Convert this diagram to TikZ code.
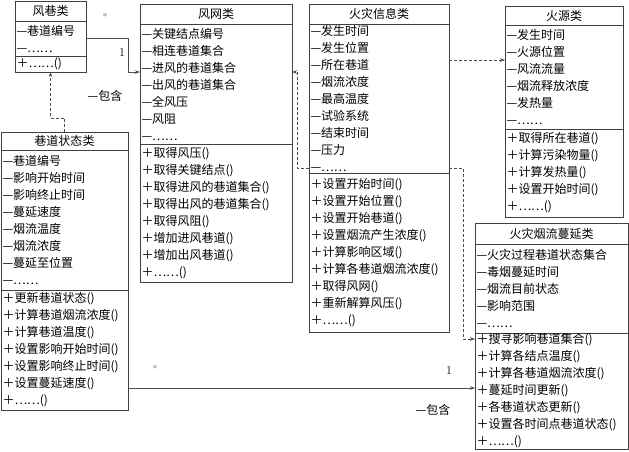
\documentclass[tikz,border=0pt]{standalone}
\usepackage{fontspec}
\newfontfamily\cjk{Noto Sans CJK SC}
\usetikzlibrary{arrows.meta,positioning}

\tikzset{
  cls/.style={draw=black!75, line width=0.6pt, inner xsep=1.5pt, inner ysep=0pt,
    outer sep=0pt, font=\cjk\fontsize{12}{17}\selectfont},
  ttl/.style={cls, align=center},
  lst/.style={cls, align=left},
  assoc/.style={-{Stealth[length=5pt,width=3.5pt]}, draw=black!70, line width=0.6pt},
  dep/.style={assoc, dash pattern=on 3pt off 2pt, line width=0.5pt},
  mult/.style={font=\normalsize, text=black!60},
  num/.style={font=\fontsize{12}{14}\selectfont},
  role/.style={font=\cjk\fontsize{12}{14}\selectfont},
}

\begin{document}
\begin{tikzpicture}[x=1pt, y=-1pt, >=Stealth]
  \useasboundingbox (0,0) rectangle (629,451);

  % 风巷类
  \node[ttl, text width=68pt, minimum height=20pt, anchor=north west] (lane-t) at (15,1) {风巷类};
  \node[lst, text width=68pt, minimum height=35pt, below=0pt of lane-t] (lane-a) {—巷道编号\\—……};
  \node[lst, text width=68pt, minimum height=16pt, below=0pt of lane-a] (lane-m) {＋……()};

  % 风网类
  \node[ttl, text width=149pt, minimum height=20pt, anchor=north west] (net-t) at (140,4) {风网类};
  \node[lst, text width=149pt, minimum height=120pt, below=0pt of net-t] (net-a)
    {—关键结点编号\\—相连巷道集合\\—进风的巷道集合\\—出风的巷道集合\\—全风压\\—风阻\\—……};
  \node[lst, text width=149pt, minimum height=138pt, below=0pt of net-a] (net-m)
    {＋取得风压()\\＋取得关键结点()\\＋取得进风的巷道集合()\\＋取得出风的巷道集合()\\
     ＋取得风阻()\\＋增加进风巷道()\\＋增加出风巷道()\\＋……()};

  % 火灾信息类
  \node[ttl, text width=137pt, minimum height=20pt, anchor=north west] (info-t) at (309,4) {火灾信息类};
  \node[lst, text width=137pt, minimum height=149pt, below=0pt of info-t] (info-a)
    {—发生时间\\—发生位置\\—所在巷道\\—烟流浓度\\—最高温度\\—试验系统\\—结束时间\\—压力\\—……};
  \node[lst, text width=137pt, minimum height=159pt, below=0pt of info-a] (info-m)
    {＋设置开始时间()\\＋设置开始位置()\\＋设置开始巷道()\\＋设置烟流产生浓度()\\
     ＋计算影响区域()\\＋计算各巷道烟流浓度()\\＋取得风网()\\＋重新解算风压()\\＋……()};

  % 火源类
  \node[ttl, text width=115pt, minimum height=19pt, anchor=north west] (src-t) at (505,6) {火源类};
  \node[lst, text width=115pt, minimum height=104pt, below=0pt of src-t] (src-a)
    {—发生时间\\—火源位置\\—风流流量\\—烟流释放浓度\\—发热量\\—……};
  \node[lst, text width=115pt, minimum height=88pt, below=0pt of src-a] (src-m)
    {＋取得所在巷道()\\＋计算污染物量()\\＋计算发热量()\\＋设置开始时间()\\＋……()};

  % 火灾烟流蔓延类
  \node[ttl, text width=150pt, minimum height=21pt, anchor=north west] (sprd-t) at (475,223) {火灾烟流蔓延类};
  \node[lst, text width=150pt, minimum height=89pt, below=0pt of sprd-t] (sprd-a)
    {—火灾过程巷道状态集合\\—毒烟蔓延时间\\—烟流目前状态\\—影响范围\\—……};
  \node[lst, text width=150pt, minimum height=116pt, below=0pt of sprd-a] (sprd-m)
    {＋搜寻影响巷道集合()\\＋计算各结点温度()\\＋计算各巷道烟流浓度()\\＋蔓延时间更新()\\
     ＋各巷道状态更新()\\＋设置各时间点巷道状态()\\＋……()};

  % 巷道状态类
  \node[ttl, text width=124pt, minimum height=18pt, anchor=north west] (state-t) at (1,132) {巷道状态类};
  \node[lst, text width=124pt, minimum height=140pt, below=0pt of state-t] (state-a)
    {—巷道编号\\—影响开始时间\\—影响终止时间\\—蔓延速度\\—烟流温度\\—烟流浓度\\—蔓延至位置\\—……};
  \node[lst, text width=124pt, minimum height=120pt, below=0pt of state-a] (state-m)
    {＋更新巷道状态()\\＋计算巷道烟流浓度()\\＋计算巷道温度()\\＋设置影响开始时间()\\
     ＋设置影响终止时间()\\＋设置蔓延速度()\\＋……()};

  % associations
  \coordinate (bend) at (128,72);
  \draw[assoc] (lane-a.east) -| (bend) -- (bend -| net-a.west);
  \draw[assoc] ([yshift=22pt]state-m.south east) -- ([yshift=22pt]state-m.south east -| sprd-m.west);

  % dependencies
  \draw[dep] (state-t.north) |- ++(0,-14) -| (lane-m.south);
  \draw[dep] ([yshift=5pt]info-a.south west) -- ++(-12,0) |- ([yshift=-48pt]net-a.north east);
  \draw[dep] ([yshift=-36pt]info-a.north east) -- ([yshift=-36pt]info-a.north east -| src-a.west);
  \draw[dep] ([yshift=5pt]info-a.south east) -- ++(14,0) |- ([yshift=-6pt]sprd-m.north west);

  % multiplicities and roles
  \node[mult] (m1) at (105,17) {*};
  \node[num] (n1) at (122,53) {1};
  \node[role] (r1) at (105,96) {—包含};
  \node[mult] (m2) at (155,369) {*};
  \node[num] (n2) at (449,370) {1};
  \node[role] (r2) at (433,410) {—包含};
\end{tikzpicture}
\end{document}
